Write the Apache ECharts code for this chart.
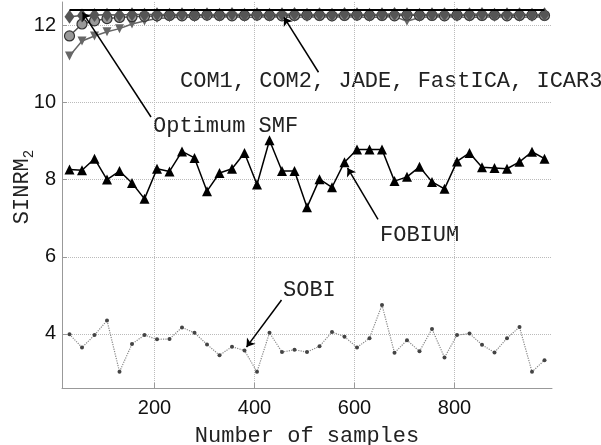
<!DOCTYPE html>
<html>
<head>
<meta charset="utf-8">
<script src="https://cdn.jsdelivr.net/npm/echarts@6/dist/echarts.min.js"></script>
<style>
html, body { margin: 0; padding: 0; background: #fff; }
#chart { width: 601px; height: 445px; }
</style>
</head>
<body>
<div id="chart"></div>
<script>
// 样本数
var xs = [30, 55, 80, 105, 130, 155, 180, 205, 230, 255, 280, 305, 330, 355, 380, 405, 430, 455, 480, 505,
          530, 555, 580, 605, 630, 655, 680, 705, 730, 755, 780, 805, 830, 855, 880, 905, 930, 955, 980];

var fobium = [8.26, 8.24, 8.54, 8.00, 8.22, 7.91, 7.50, 8.28, 8.21, 8.73, 8.56, 7.70, 8.17, 8.28, 8.69, 7.87, 9.02, 8.22, 8.22, 7.28,
              8.01, 7.80, 8.45, 8.78, 8.78, 8.78, 7.96, 8.07, 8.33, 7.94, 7.76, 8.47, 8.69, 8.32, 8.30, 8.28, 8.46, 8.72, 8.54];

var sobi = [3.99, 3.65, 3.97, 4.35, 3.02, 3.74, 3.97, 3.86, 3.87, 4.17, 4.03, 3.73, 3.45, 3.67, 3.57, 3.02, 4.03, 3.53, 3.59, 3.53,
            3.68, 4.05, 3.93, 3.65, 3.89, 4.75, 3.51, 3.84, 3.55, 4.13, 3.39, 3.97, 4.01, 3.72, 3.52, 3.89, 4.18, 3.02, 3.32];

// 上面一簇 (COM1, COM2, JADE, FastICA, ICAR3)
var diamondVals = [12.22, 12.25, 12.26, 12.27, 12.26, 12.28, 12.27, 12.28, 12.27, 12.28, 12.26, 12.28, 12.27, 12.29, 12.27, 12.28, 12.27, 12.28, 12.29, 12.27,
                   12.28, 12.27, 12.29, 12.28, 12.27, 12.28, 12.29, 12.28, 12.27, 12.28, 12.28, 12.27, 12.28, 12.29, 12.27, 12.28, 12.28, 12.27, 12.28];
var circleVals = [11.72, 12.03, 12.11, 12.17, 12.20, 12.22, 12.23, 12.24, 12.25, 12.24, 12.25, 12.26, 12.25, 12.24, 12.25, 12.26, 12.25, 12.24, 12.25, 12.26,
                  12.25, 12.24, 12.25, 12.26, 12.25, 12.25, 12.24, 12.26, 12.25, 12.25, 12.24, 12.26, 12.25, 12.25, 12.26, 12.24, 12.25, 12.26, 12.25];
var triangleVals = [11.20, 11.59, 11.72, 11.83, 11.91, 12.03, 12.11, 12.17, 12.19, 12.21, 12.20, 12.22, 12.21, 12.22, 12.20, 12.21, 12.22, 12.21, 12.20, 12.22,
                    12.21, 12.21, 12.21, 12.22, 12.20, 12.21, 12.22, 12.10, 12.20, 12.22, 12.21, 12.22, 12.20, 12.21, 12.22, 12.21, 12.20, 12.22, 12.21];

// Optimum SMF
var optX = [30, 980];
var optY = [12.39, 12.39];

var xTicks = [200, 400, 600, 800];
var yTicks = [4, 6, 8, 10, 12];

function pairs(x, y) {
    var out = [];
    for (var i = 0; i < x.length; i++) out.push([x[i], y[i]]);
    return out;
}

var mono = "'Courier New', 'Liberation Mono', monospace";
var sans = "'Liberation Sans', Arial, sans-serif";

var chart = echarts.init(document.getElementById('chart'));

var option = {
    animation: false,
    grid: { left: 62, right: 49, top: 2, bottom: 57, outerBoundsMode: 'none', containLabel: false },
    xAxis: {
        type: 'value',
        min: 15,
        max: 995,
        name: 'Number of samples',
        nameLocation: 'middle',
        nameGap: 37,
        nameMoveOverlap: false,
        nameTextStyle: { fontFamily: mono, fontSize: 22, color: '#222' },
        axisLine: { lineStyle: { color: '#999', width: 1 } },
        axisTick: { inside: true, length: 5, customValues: xTicks, lineStyle: { color: '#999' } },
        axisLabel: { customValues: xTicks, fontFamily: sans, fontSize: 20, color: '#111', margin: 10 },
        splitLine: { show: true, lineStyle: { type: 'dotted', color: '#bbb', width: 1 } }
    },
    yAxis: {
        type: 'value',
        min: 2.6,
        max: 12.6,
        name: '{a|SINRM}{b|2}',
        nameLocation: 'middle',
        nameRotate: 90,
        nameGap: 26,
        nameMoveOverlap: false,
        nameTextStyle: {
            padding: [0, 0, 0, 16],
            rich: {
                a: { fontFamily: mono, fontSize: 22, color: '#222', lineHeight: 28 },
                b: { fontFamily: mono, fontSize: 14, color: '#222', verticalAlign: 'bottom', lineHeight: 28 }
            }
        },
        axisLine: { show: true, lineStyle: { color: '#999', width: 1 } },
        axisTick: { show: true, inside: true, length: 5, customValues: yTicks, lineStyle: { color: '#999' } },
        axisLabel: { customValues: yTicks, fontFamily: sans, fontSize: 20, color: '#111', margin: 6 },
        splitLine: { show: true, lineStyle: { type: 'dotted', color: '#bbb', width: 1 } }
    },
    series: [
        {
            name: 'SOBI',
            type: 'line',
            data: pairs(xs, sobi),
            symbol: 'circle',
            symbolSize: 4,
            itemStyle: { color: '#444' },
            lineStyle: { color: '#888', width: 1.2, type: 'dotted' }
        },
        {
            name: 'FOBIUM',
            type: 'line',
            data: pairs(xs, fobium),
            symbol: 'triangle',
            symbolSize: 10,
            itemStyle: { color: '#000' },
            lineStyle: { color: '#000', width: 1.5 }
        },
        {
            name: 'ICAR3',
            type: 'line',
            data: pairs(xs, triangleVals),
            symbol: 'triangle',
            symbolRotate: 180,
            symbolSize: 9,
            itemStyle: { color: '#666' },
            lineStyle: { color: '#666', width: 1.5 }
        },
        {
            name: 'JADE',
            type: 'line',
            data: pairs(xs, circleVals),
            symbol: 'circle',
            symbolSize: 10,
            itemStyle: { color: '#999', borderColor: '#333', borderWidth: 1.2 },
            lineStyle: { color: '#555', width: 1.5 }
        },
        {
            name: 'COM1',
            type: 'line',
            data: pairs(xs, diamondVals),
            symbol: 'diamond',
            symbolSize: [10, 14],
            itemStyle: { color: '#555' },
            lineStyle: { color: '#555', width: 1.5 },
            z: 4
        },
        {
            name: 'Optimum SMF',
            type: 'line',
            data: pairs(optX, optY),
            symbol: 'none',
            lineStyle: { color: '#000', width: 2 },
            z: 5,
            // 箭头注释
            markLine: {
                silent: true,
                symbol: ['none', 'arrow'],
                symbolSize: 8,
                label: { show: false },
                lineStyle: { color: '#000', width: 1.5, type: 'solid' },
                data: [
                    [{ coord: [193, 9.62] }, { coord: [56, 12.33] }],
                    [{ coord: [528, 10.78] }, { coord: [459, 12.2] }],
                    [{ coord: [647, 6.97] }, { coord: [586, 8.3] }],
                    [{ coord: [454, 4.88] }, { coord: [384, 3.66] }]
                ]
            }
        }
    ],
    graphic: [
        { type: 'text', left: 180, top: 70, style: { text: 'COM1, COM2, JADE, FastICA, ICAR3', font: '22px ' + mono, fill: '#222' } },
        { type: 'text', left: 153, top: 115, style: { text: 'Optimum SMF', font: '22px ' + mono, fill: '#222' } },
        { type: 'text', left: 380, top: 224, style: { text: 'FOBIUM', font: '22px ' + mono, fill: '#222' } },
        { type: 'text', left: 283, top: 279, style: { text: 'SOBI', font: '22px ' + mono, fill: '#222' } }
    ]
};
chart.setOption(option);
</script>
</body>
</html>
